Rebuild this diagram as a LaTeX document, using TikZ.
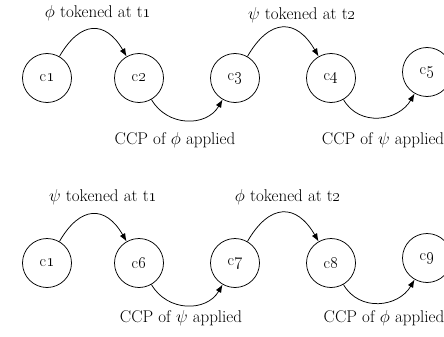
\documentclass[tikz,border=0pt]{standalone}
\usetikzlibrary{arrows.meta}
\begin{document}
\begin{tikzpicture}[x=1pt,y=1pt,
  state/.style={circle,draw,line width=0.75pt,minimum size=49pt,inner sep=0pt,font=\fontsize{16}{19}\selectfont},
  lbl/.style={font=\fontsize{17}{20}\selectfont,inner sep=0pt},
  arr/.style={line width=0.75pt,-{Latex[length=8pt,width=6pt]}},
  up/.style={out=60,in=120,looseness=1.6},
  down/.style={out=-60,in=-120,looseness=1.15}]
\useasboundingbox (0,0) rectangle (444,-337);
% row 1
\node[state] (a1) at (47,-78) {c\oldstylenums{1}};
\node[state] (a2) at (139,-78) {c\oldstylenums{2}};
\node[state] (a3) at (235,-78) {c\oldstylenums{3}};
\node[state] (a4) at (331,-78) {c\oldstylenums{4}};
\node[state] (a5) at (427,-72) {c\oldstylenums{5}};
\draw[arr] (a1) to[up] (a2);
\draw[arr] (a2) to[down] (a3);
\draw[arr] (a3) to[up] (a4);
\draw[arr] (a4) to[down] (a5);
\node[lbl] (t1) at (98,-13) {$\phi$ tokened at t\oldstylenums{1}};
\node[lbl] (t2) at (302,-15) {$\psi$ tokened at t\oldstylenums{2}};
\node[lbl] (t3) at (175,-140) {CCP of $\phi$ applied};
\node[lbl] (t4) at (383,-140) {CCP of $\psi$ applied};
% row 2
\node[state] (b1) at (47,-263) {c\oldstylenums{1}};
\node[state] (b2) at (139,-263) {c\oldstylenums{6}};
\node[state] (b3) at (235,-263) {c\oldstylenums{7}};
\node[state] (b4) at (331,-263) {c\oldstylenums{8}};
\node[state] (b5) at (427,-258) {c\oldstylenums{9}};
\draw[arr] (b1) to[up] (b2);
\draw[arr] (b2) to[down] (b3);
\draw[arr] (b3) to[up] (b4);
\draw[arr] (b4) to[down] (b5);
\node[lbl] (s1) at (103,-197) {$\psi$ tokened at t\oldstylenums{1}};
\node[lbl] (s2) at (288,-197) {$\phi$ tokened at t\oldstylenums{2}};
\node[lbl] (s3) at (181,-318) {CCP of $\psi$ applied};
\node[lbl] (s4) at (384,-318) {CCP of $\phi$ applied};
\end{tikzpicture}
\end{document}
